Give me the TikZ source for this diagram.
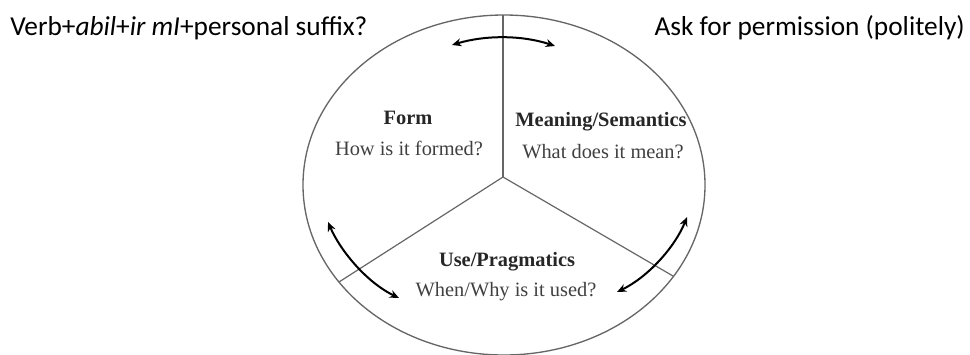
\documentclass[tikz,border=0pt]{standalone}
\usepackage{fontspec}
\setmainfont{Liberation Serif}
\newfontfamily\calib{Carlito}
\usetikzlibrary{arrows.meta}
\definecolor{rim}{HTML}{666666}
\definecolor{boldtxt}{HTML}{262626}
\definecolor{regtxt}{HTML}{404040}
\tikzset{
  rimline/.style={draw=rim, line width=1pt},
  sectline/.style={draw=rim, line width=0.9pt},
  dblarrow/.style={draw=black, line width=1.5pt, {Stealth[length=7pt,width=6pt]}-{Stealth[length=7pt,width=6pt]}},
  toptext/.style={font=\calib\fontsize{20.5}{24}\selectfont, text=black, inner sep=0pt},
  headtxt/.style={font=\fontsize{15.3}{18}\selectfont\bfseries, text=boldtxt, inner sep=0pt},
  subtxt/.style={font=\fontsize{15.3}{18}\selectfont, text=regtxt, inner sep=0pt}
}
\begin{document}
\begin{tikzpicture}[x=0.75pt,y=-0.75pt]
\useasboundingbox (0,0) rectangle (970,354);
% circle
\draw[rimline] (504,185) ellipse [x radius=201, y radius=170];
% sectors
\coordinate (hub) at (503,177);
\coordinate (topend) at (503,15);
\coordinate (leftend) at (339,282);
\coordinate (rightend) at (673,276);
\draw[sectline] (hub) -- (topend);
\draw[sectline] (hub) -- (leftend);
\draw[sectline] (hub) -- (rightend);
% texts
\node[toptext, anchor=west] (verb) at (10,28) {Verb+\textit{abil}+\textit{ir mI}+personal suffix?};
\node[toptext, anchor=east] (ask) at (965,28) {Ask for permission (politely)};
\node[headtxt] (form) at (408,118) {Form};
\node[subtxt] (formq) at (409,148) {How is it formed?};
\node[headtxt] (mean) at (601,122) {Meaning/Semantics};
\node[subtxt] (meanq) at (603,152) {What does it mean?};
\node[headtxt] (use) at (507,262) {Use/Pragmatics};
\node[subtxt] (useq) at (506,292) {When/Why is it used?};
% arrows
\coordinate (ta) at (452,45);
\coordinate (tb) at (555,46);
\coordinate (la) at (328,222);
\coordinate (lb) at (399,298);
\coordinate (ra) at (687,217);
\coordinate (rb) at (617,292);
\draw[dblarrow] (ta) .. controls (485,35) and (522,35) .. (tb);
\draw[dblarrow] (la) .. controls (340,250) and (366,282) .. (lb);
\draw[dblarrow] (ra) .. controls (675,247) and (648,277) .. (rb);
\end{tikzpicture}
\end{document}
